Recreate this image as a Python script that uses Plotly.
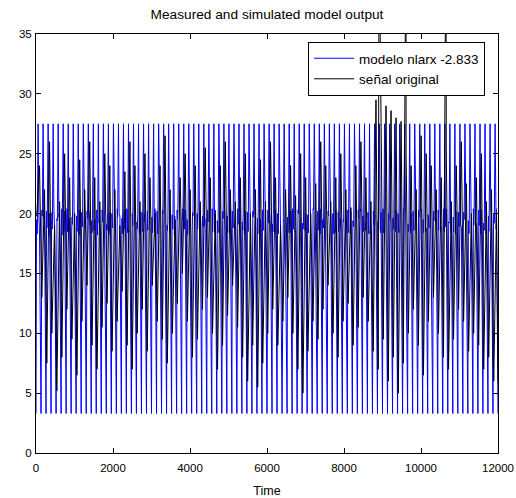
import plotly.graph_objects as go

# ---------------- data ----------------
n_cycles = 92
t_end = 12000.0

# blue (modelo nlarx) levels
blue_top = 27.5
blue_bottom = 3.3
blue_mid_a = [19.5, 18.4, 20.2, 19.0, 18.6, 20.4, 19.2, 18.3, 19.8, 20.1,
              18.7, 19.4, 20.3, 18.5, 19.1, 20.0, 18.9, 19.6, 20.4, 18.2,
              19.3, 20.1, 18.8, 19.7, 20.2, 18.4, 19.0, 19.9, 20.3, 18.6,
              19.5, 18.3, 20.0, 19.2, 18.7, 20.4, 19.4, 18.5, 19.8, 20.2,
              18.9, 19.3, 20.1, 18.4, 19.6, 20.3, 18.8, 19.1, 20.0, 18.5,
              19.7, 20.4, 18.6, 19.2, 19.9, 18.3, 20.2, 19.5, 18.7, 20.0,
              19.0, 18.4, 20.3, 19.4, 18.8, 19.8, 20.1, 18.5, 19.3, 20.4,
              18.9, 19.6, 20.0, 18.3, 19.1, 20.2, 18.7, 19.5, 19.9, 18.4,
              20.3, 19.0, 18.6, 19.7, 20.1, 18.8, 19.4, 20.4, 18.5, 19.2,
              19.8, 18.9]
blue_mid_b = [18.3, 20.3, 18.8, 20.1, 19.6, 18.2, 20.4, 19.7, 18.5, 18.9,
              20.2, 18.4, 19.0, 20.3, 18.6, 19.2, 20.4, 18.3, 19.1, 20.0,
              18.7, 18.5, 20.2, 18.4, 19.3, 20.3, 18.6, 18.9, 19.5, 20.4,
              18.2, 20.1, 18.7, 19.8, 20.3, 18.5, 19.0, 20.2, 18.4, 19.1,
              20.4, 18.6, 18.8, 20.2, 18.3, 19.0, 20.3, 18.5, 19.4, 20.1,
              18.4, 19.2, 20.3, 18.7, 18.5, 20.4, 18.6, 19.0, 20.2, 18.3,
              20.1, 19.5, 18.4, 18.9, 20.3, 18.5, 19.0, 20.2, 18.6, 18.4,
              20.0, 18.7, 19.2, 20.4, 18.5, 18.8, 20.3, 18.4, 19.1, 20.2,
              18.6, 20.4, 19.3, 18.5, 18.9, 20.1, 18.3, 19.0, 20.3, 18.7,
              18.5, 20.0]

# black (senal original): one trough and one peak per cycle
black_troughs = [19.8, 13, 7.5, 10, 5.2, 8, 12, 9.5, 6.5, 11,
                 14, 9, 7, 10.5, 12.5, 8.5, 11, 13.5, 9, 7,
                 10, 12, 8.5, 14, 11, 9.5, 7.5, 10, 12.5, 15,
                 11, 8, 9.5, 12, 13, 10, 7, 9, 11.5, 14,
                 10.5, 8, 6, 9, 5.5, 7.5, 10, 12, 9, 11,
                 13, 10, 7, 5, 8.5, 11, 9.5, 12, 14, 10,
                 8, 11, 12.5, 9, 10.5, 13, 11, 8.5, 7, 9.5,
                 6, 8, 5, 7.5, 10, 12, 9, 6.5, 11, 13,
                 10, 8, 7, 9.5, 12, 11, 8.5, 10, 9, 7,
                 8, 6]
black_peaks = [24, 22, 26, 19, 21, 25, 23, 20, 24.5, 22,
               26, 23, 21, 25, 24, 22, 19, 23.5, 26, 24,
               21, 25, 23, 20, 24, 26.5, 22, 19.5, 23, 25,
               22, 24, 21, 25.5, 23, 20, 24, 26, 22, 21,
               23, 25, 20, 22, 24.5, 21, 26, 23, 19, 22,
               24, 21.5, 25, 23, 20, 22.5, 26, 24, 21, 23,
               25, 22, 20.5, 24, 26, 23, 21, 29.5, 30, 29,
               28.6, 28, 27.7, 25, 24, 22, 26.5, 25, 24, 22,
               23, 25.5, 21, 24, 26, 22.5, 20, 23, 25, 21,
               22, 20]
# single-sample spikes of the original signal (go off the top)
spike_times = [8909, 9610, 10649]
spike_values = [45, 45, 45]

x_ticks = [0, 2000, 4000, 6000, 8000, 10000, 12000]
y_ticks = [0, 5, 10, 15, 20, 25, 30, 35]

# ---------------- build line vertices ----------------
period = t_end / n_cycles
bt, bv = [], []
for k in range(n_cycles):
    t0 = k * period
    bt += [t0, t0 + 0.10 * period, t0 + 0.18 * period, t0 + 0.26 * period,
           t0 + 0.42 * period, t0 + 0.56 * period, t0 + 0.63 * period, t0 + 0.70 * period]
    bv += [blue_bottom, blue_mid_a[k], blue_mid_b[k], blue_mid_a[(k + 7) % n_cycles],
           blue_top, blue_mid_b[(k + 3) % n_cycles], blue_mid_a[(k + 11) % n_cycles],
           blue_mid_b[(k + 17) % n_cycles]]
bt.append(t_end)
bv.append(blue_bottom)

pts = []
for k in range(n_cycles):
    t0 = k * period
    pts.append((t0 + 0.15 * period, black_troughs[k]))
    pts.append((t0 + 0.70 * period, black_peaks[k]))
for ts, vs in zip(spike_times, spike_values):
    pts.append((ts, vs))
pts.sort()
kt = [0.0] + [p[0] for p in pts] + [t_end]
kv = [black_troughs[0]] + [p[1] for p in pts] + [6.0]

FONT = "Liberation Sans, Arial, sans-serif"

fig = go.Figure()
fig.add_trace(go.Scatter(x=bt, y=bv, mode="lines", name="modelo nlarx -2.833",
                         line=dict(color="#0000ff", width=1)))
fig.add_trace(go.Scatter(x=kt, y=kv, mode="lines", name="señal original",
                         line=dict(color="#000000", width=1)))

axis_common = dict(showline=True, mirror="ticks", linecolor="black", linewidth=1,
                   ticks="inside", ticklen=5, tickcolor="black", tickwidth=1,
                   showgrid=False, zeroline=False, automargin=False,
                   tickfont=dict(family=FONT, size=11.5, color="black"))

fig.update_xaxes(range=[0, 12000], tickvals=x_ticks, ticktext=[str(v) for v in x_ticks],
                 ticklabelstandoff=4,
                 title=dict(text="Time", font=dict(family=FONT, size=12.5, color="black"), standoff=14),
                 **axis_common)
fig.update_yaxes(range=[0, 35], tickvals=y_ticks, ticktext=[str(v) for v in y_ticks],
                 ticklabelstandoff=1,
                 **axis_common)

fig.update_layout(
    width=516, height=498,
    margin=dict(l=36, r=18, t=34, b=45),
    paper_bgcolor="white", plot_bgcolor="white",
    title=dict(text="Measured and simulated model output", x=(36 + 231) / 516, xanchor="center",
               xref="container", y=1 - 14 / 498, yanchor="middle",
               font=dict(family=FONT, size=13.7, color="black")),
    legend=dict(x=0.589, y=0.981, xanchor="left", yanchor="top",
                bgcolor="white", bordercolor="black", borderwidth=1,
                font=dict(family=FONT, size=13.5, color="black"),
                itemwidth=40, tracegroupgap=0),
    showlegend=True,
)

fig.write_html("out.html", config={"displayModeBar": False},
               post_script="document.body.style.margin='0';document.body.style.padding='0';")
